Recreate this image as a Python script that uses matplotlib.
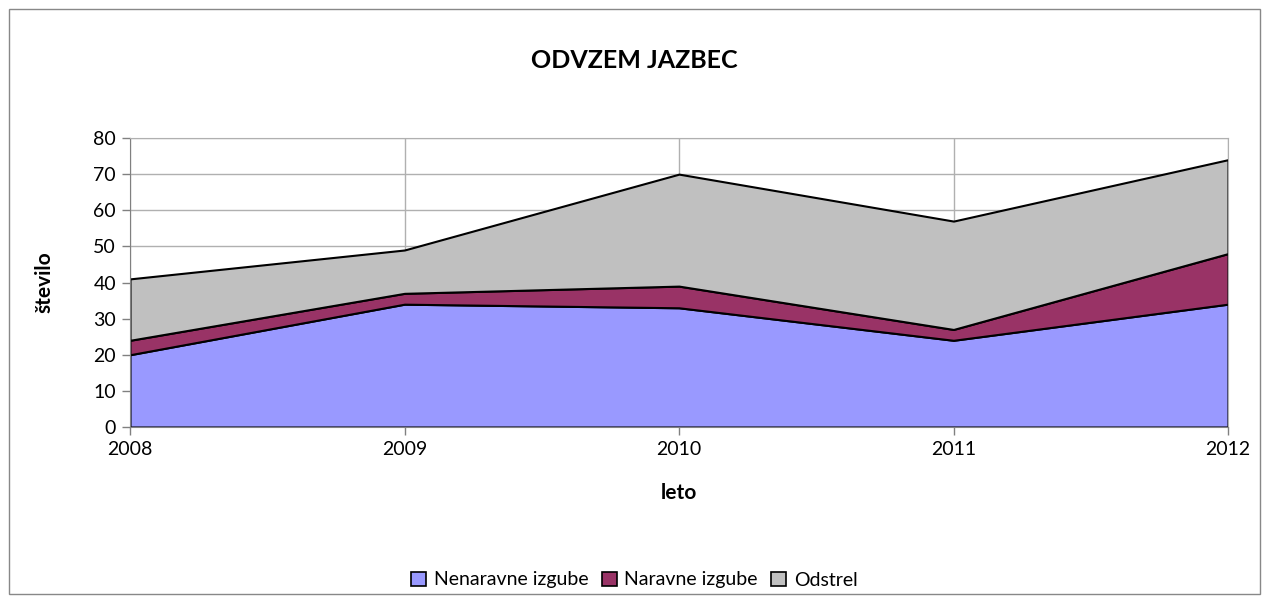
import matplotlib.pyplot as plt
from matplotlib.patches import Rectangle, Patch

leta = [2008, 2009, 2010, 2011, 2012]
nenaravne = [20, 34, 33, 24, 34]
naravne = [4, 3, 6, 3, 14]
odstrel = [17, 12, 31, 30, 26]

imena = ['Nenaravne izgube', 'Naravne izgube', 'Odstrel']
barve = ['#9999ff', '#993366', '#c0c0c0']

plt.rcParams['font.family'] = ['Lato', 'DejaVu Sans']

fig = plt.figure(figsize=(12.69, 5.99), dpi=100)
ax = fig.add_axes([130 / 1269, 1 - 427 / 599, 1098 / 1269, 289 / 599])

ax.stackplot(leta, nenaravne, naravne, odstrel, colors=barve,
             edgecolor='black', linewidth=1.5, zorder=2)

ax.set_xlim(2008, 2012)
ax.set_ylim(0, 80)
ax.set_xticks(leta)
ax.set_yticks(range(0, 81, 10))
ax.grid(True, color='#b0b0b0', linewidth=1, zorder=0)
ax.set_axisbelow(True)
ax.tick_params(labelsize=14, color='#808080', length=6, width=1, pad=4)
for s in ['top', 'right']:
    ax.spines[s].set_color('#b0b0b0')
for s in ['left', 'bottom']:
    ax.spines[s].set_color('#808080')

ax.set_xlabel('leto', fontsize=15, fontweight='bold', labelpad=18)
ax.set_ylabel('število', fontsize=15, fontweight='bold', labelpad=28)
fig.text(0.5, 1 - 60 / 599, 'ODVZEM JAZBEC', ha='center', va='center',
         fontsize=18, fontweight='bold')

roc = [Patch(facecolor=b, edgecolor='black', linewidth=1.2) for b in barve]
fig.legend(roc, imena, loc='center', bbox_to_anchor=(0.5, 1 - 580 / 599),
           ncol=3, frameon=False, fontsize=14, handlelength=0.75,
           handleheight=0.75, handletextpad=0.4, columnspacing=0.7)

fig.patches.append(Rectangle((9 / 1269, 5 / 599), 1251 / 1269, 585 / 599,
                             transform=fig.transFigure, fill=False,
                             edgecolor='#888888', linewidth=1))

fig.savefig('out.png', dpi=100)
